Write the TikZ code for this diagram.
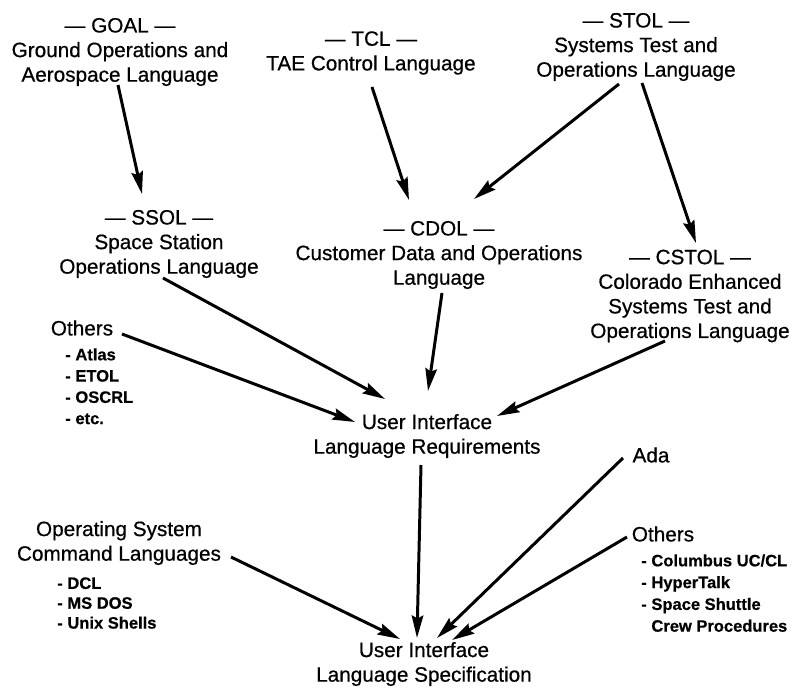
\documentclass[tikz,border=0pt]{standalone}
\usepackage{fontspec}
\setmainfont{Liberation Sans}[FakeBold=0.6]
\usetikzlibrary{arrows.meta}
\tikzset{
    lang/.style={inner sep=0pt, align=center,
    	font=\fontsize{11.8}{14}\selectfont}
}
\tikzset{
    items/.style={inner sep=0pt, align=left, anchor=north west,
    	font=\bfseries\fontsize{9.4}{11.6}\selectfont}
}
\tikzset{
    arr/.style={-{Stealth[length=4.5mm,width=2.3mm,inset=0.6mm]},
    	line width=1.7pt}
}

\begin{document}
\begin{tikzpicture}[x=0.02cm,y=-0.02cm]
	\useasboundingbox (0,0) rectangle (802,696);
	\node (goal) [lang] at (120,52) {--- GOAL ---\\Ground Operations and\\Aerospace Language};
	\node (tcl) [lang] at (371,53) {--- TCL ---\\TAE Control Language};
	\node (stol) [lang] at (636,47) {--- STOL ---\\Systems Test and\\Operations Language};
	\node (ssol) [lang] at (159,244) {--- SSOL ---\\Space Station\\Operations Language};
	\node (cdol) [lang] at (439,255) {--- CDOL ---\\Customer Data and Operations\\Language};
	\node (cstol) [lang] at (690,296) {--- CSTOL ---\\Colorado Enhanced\\Systems Test and\\Operations Language};
	\node (oth1) [lang] at (82,328) {Others};
	\node (oth1list) [items, font=\bfseries\fontsize{9.4}{12.1}\selectfont] at (65,348) {- Atlas\\- ETOL\\- OSCRL\\- etc.};
	\node (uilr) [lang] at (427,436) {User Interface\\Language Requirements};
	\node (ada) [lang] at (651,455) {Ada};
	\node (oth2) [lang] at (663,534) {Others};
	\node (oth2list) [items, font=\bfseries\fontsize{9.4}{12.4}\selectfont] at (641,554) {- Columbus UC/CL\\- HyperTalk\\- Space Shuttle\\\phantom{- }Crew Procedures};
	\node (oscl) [lang] at (119,543) {Operating System\\Command Languages};
	\node (oscllist) [items, font=\bfseries\fontsize{9.4}{11.3}\selectfont] at (57,577) {- DCL\\- MS DOS\\- Unix Shells};
	\node (uils) [lang] at (424,664) {User Interface\\Language Specification};

	\draw[arr] ([shift={(-2,33)}]goal.center) -- ([shift={(-17,-50)}]ssol.center);
	\draw[arr] ([shift={(1,34)}]tcl.center) -- ([shift={(-30,-55)}]cdol.center);
	\draw[arr] ([shift={(-17,37)}]stol.center) -- ([shift={(35,-56)}]cdol.center);
	\draw[arr] ([shift={(6,36)}]stol.center) -- ([shift={(6,-53)}]cstol.center);
	\draw[arr] ([shift={(4,34)}]ssol.center) -- ([shift={(-42,-37)}]uilr.center);
	\draw[arr] ([shift={(40,6)}]oth1.center) -- ([shift={(-72,-14)}]uilr.center);
	\draw[arr] ([shift={(3,38)}]cdol.center) -- ([shift={(1,-45)}]uilr.center);
	\draw[arr] ([shift={(-25,45)}]cstol.center) -- ([shift={(70,-20)}]uilr.center);
	\draw[arr] ([shift={(-6,29)}]uilr.center) -- ([shift={(-7,-26)}]uils.center);
	\draw[arr] ([shift={(-28,3)}]ada.center) -- ([shift={(13,-26)}]uils.center);
	\draw[arr] ([shift={(-36,3)}]oth2.center) -- ([shift={(28,-24)}]uils.center);
	\draw[arr] ([shift={(112,14)}]oscl.center) -- ([shift={(-24,-25)}]uils.center);
\end{tikzpicture}
\end{document}
